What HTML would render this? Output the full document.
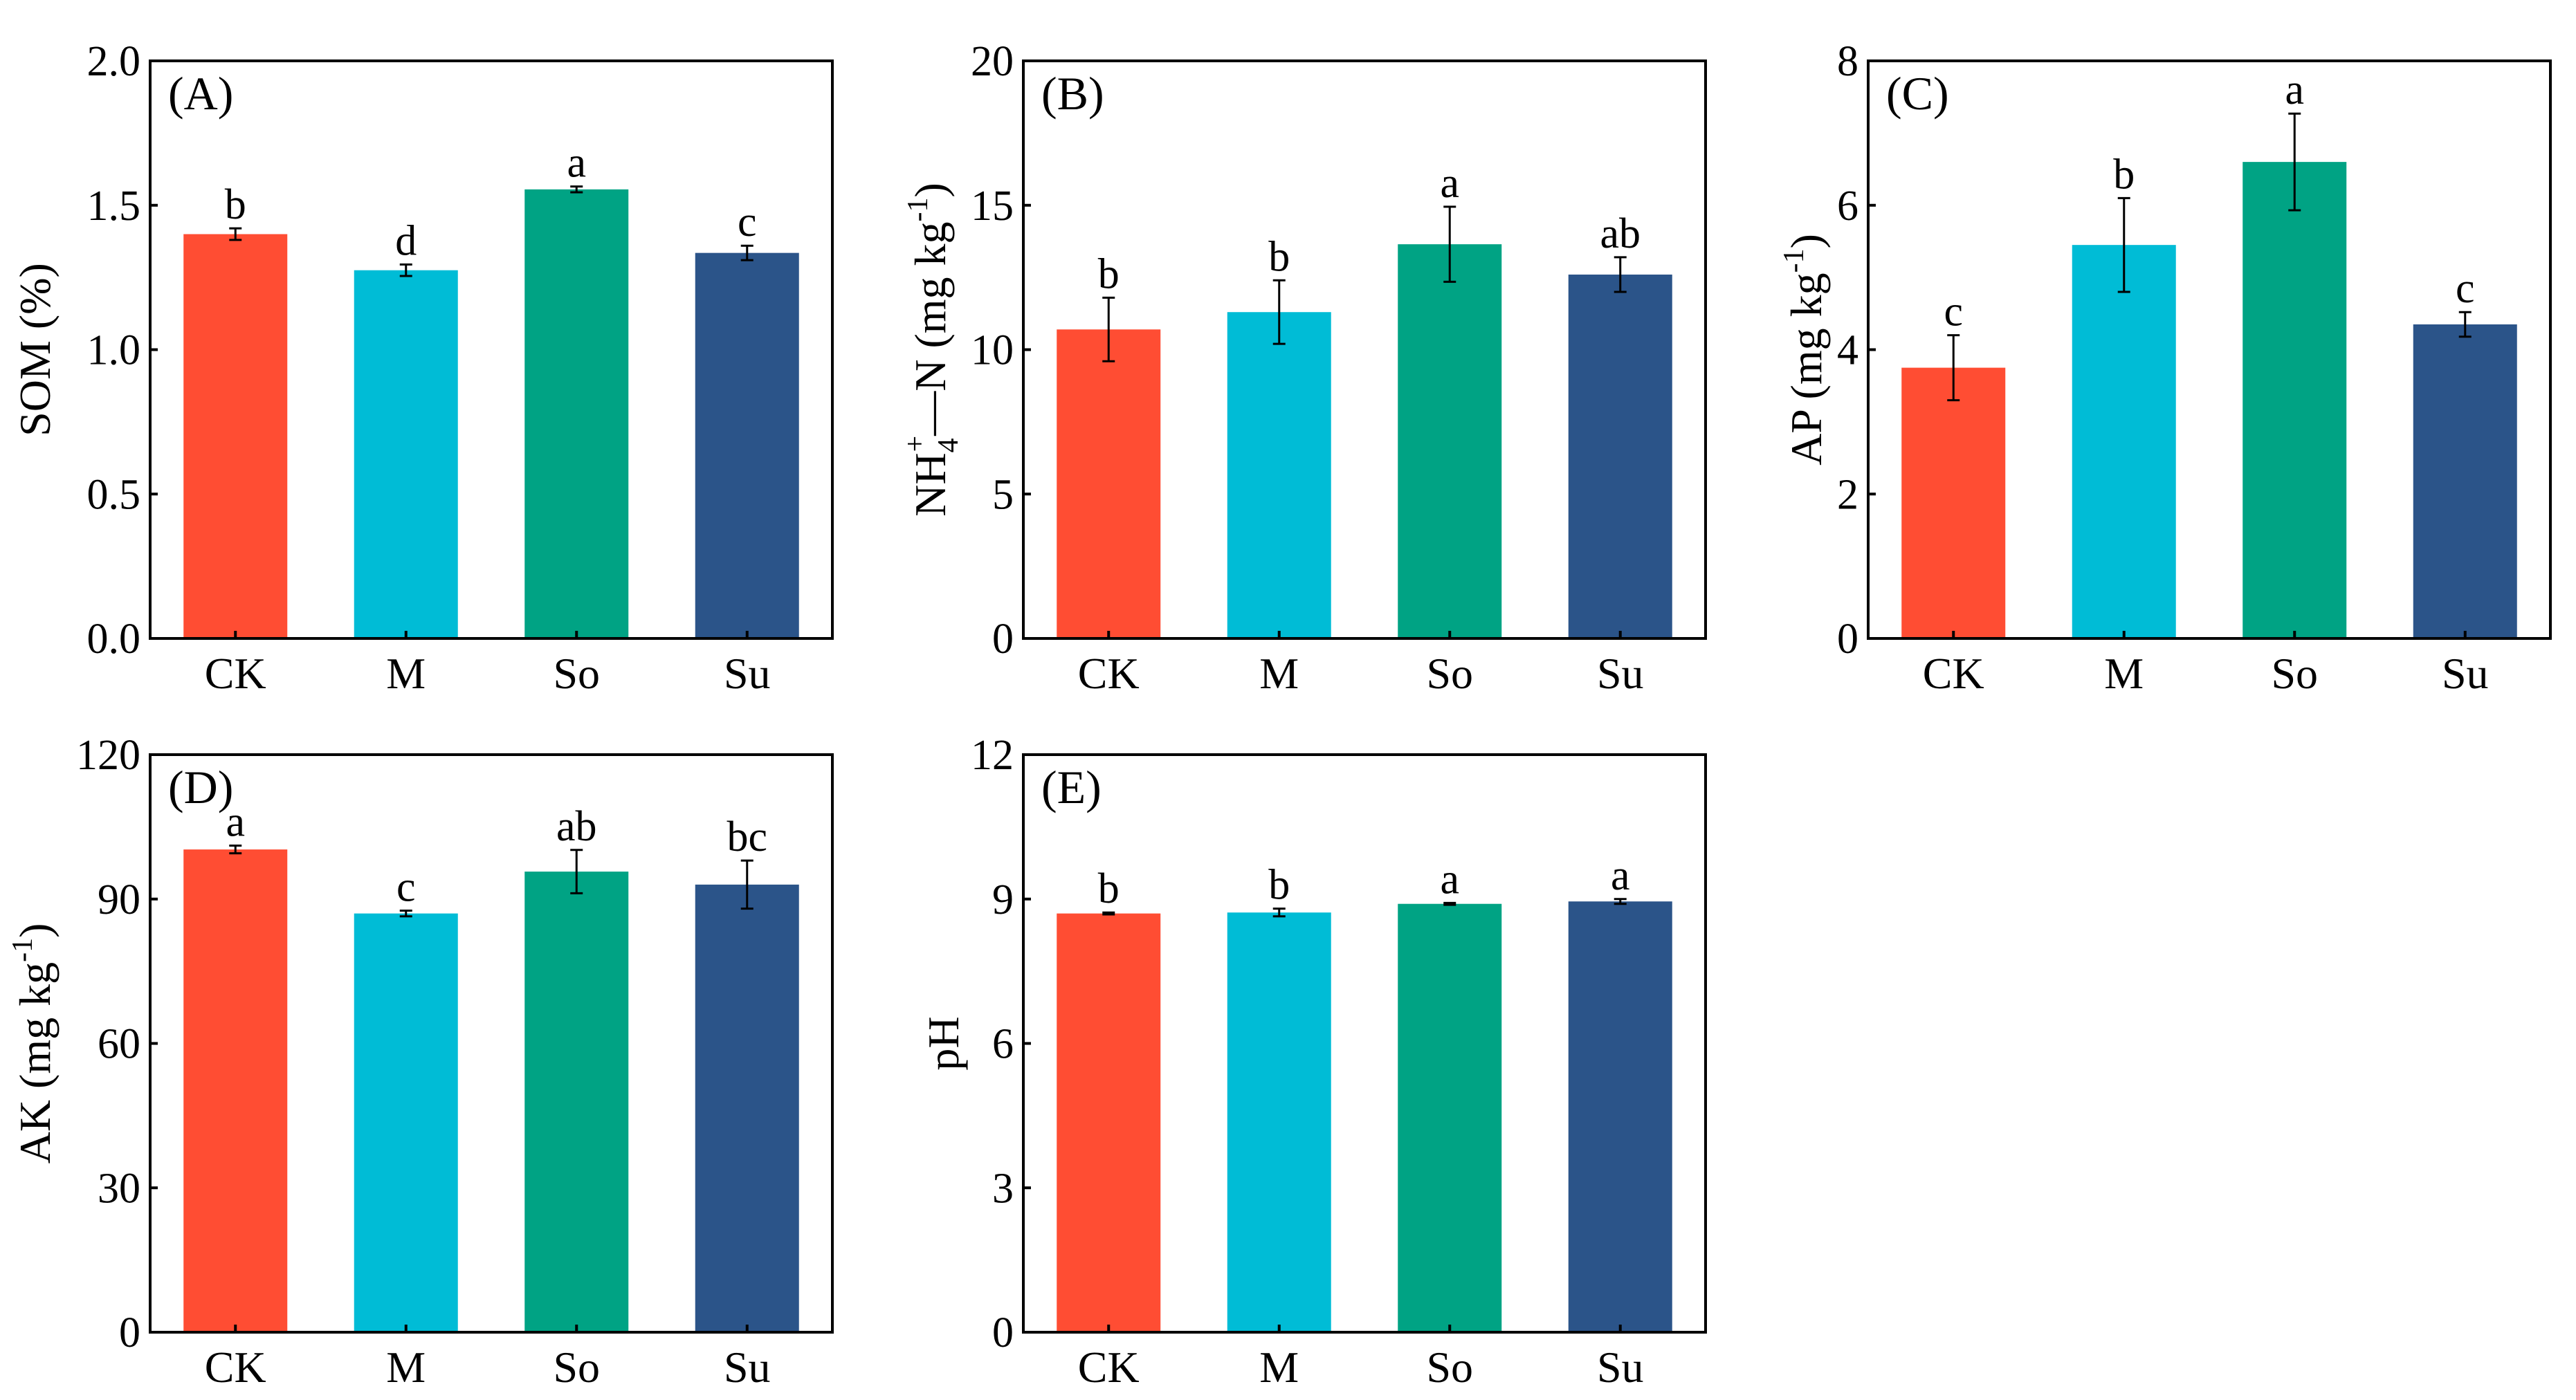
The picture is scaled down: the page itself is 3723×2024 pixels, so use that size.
<!DOCTYPE html>
<html><head><meta charset="utf-8"><style>
html,body{margin:0;padding:0;background:#fff;}
svg{display:block;font-family:"Liberation Serif","Times New Roman",serif;}
</style></head><body>
<svg id="chart" width="3723" height="2024" viewBox="0 0 3723 2024" xmlns="http://www.w3.org/2000/svg"></svg>
<script>
const categories = ["CK","M","So","Su"];
const colors = ["#FF4D33","#00BCD6","#00A384","#2B5489"];
const valsA = [1.40,1.275,1.555,1.335];
const errA = [0.02,0.02,0.01,0.025];
const sigA = ["b","d","a","c"];
const ticksA = ["0.0","0.5","1.0","1.5","2.0"];
const valsB = [10.7,11.3,13.65,12.6];
const errB = [1.1,1.1,1.3,0.6];
const sigB = ["b","b","a","ab"];
const ticksB = ["0","5","10","15","20"];
const valsC = [3.75,5.45,6.6,4.35];
const errC = [0.45,0.65,0.67,0.17];
const sigC = ["c","b","a","c"];
const ticksC = ["0","2","4","6","8"];
const valsD = [100.3,87,95.7,93];
const errD = [0.8,0.6,4.5,5];
const sigD = ["a","c","ab","bc"];
const ticksD = ["0","30","60","90","120"];
const valsE = [8.7,8.72,8.9,8.95];
const errE = [0.02,0.08,0.02,0.05];
const sigE = ["b","b","a","a"];
const ticksE = ["0","3","6","9","12"];

const NS="http://www.w3.org/2000/svg";
const svg=document.getElementById('chart');
function mk(tag,attrs,parent){const e=document.createElementNS(NS,tag);for(const k in attrs)e.setAttribute(k,attrs[k]);(parent||svg).appendChild(e);return e;}

function panel(id,x0,y0,label,ticks,vals,errs,sigs,titleX,titleFn){
  const W=986,H=835;
  const g=mk('g',{});
  
  
  const ymax=parseFloat(ticks[ticks.length-1]);
  const ys=v=>y0+H-v/ymax*H;
  const band=W/categories.length;
  const xs=i=>x0+band*(i+0.5);
  const bw=150;
  vals.forEach((v,i)=>{
    const r=mk('rect',{x:xs(i)-bw/2,y:ys(v),width:bw,height:y0+H-ys(v),fill:colors[i]},g);
    
    
    const top=ys(v+errs[i]),bot=ys(v-errs[i]);
    const eb=mk('path',{d:`M${xs(i)} ${top}V${bot}M${xs(i)-9} ${top}H${xs(i)+9}M${xs(i)-9} ${bot}H${xs(i)+9}`,stroke:'#000','stroke-width':3,fill:'none'},g);
    
    
    const t=mk('text',{x:xs(i),y:top-14,'text-anchor':'middle','font-size':62},g);
    t.textContent=sigs[i];
    
    
    const xl=mk('text',{x:xs(i),y:y0+H+72,'text-anchor':'middle','font-size':64},g);
    xl.textContent=categories[i];
    
    
    const tk=mk('line',{x1:xs(i),x2:xs(i),y1:y0+H,y2:y0+H-11,stroke:'#000','stroke-width':4},g);
    
    
  });
  ticks.forEach(t=>{
    const v=parseFloat(t);
    const ln=mk('line',{x1:x0,x2:x0+11,y1:ys(v),y2:ys(v),stroke:'#000','stroke-width':4},g);
    
    
    const tl=mk('text',{x:x0-14,y:ys(v)+21,'text-anchor':'end','font-size':62},g);
    tl.textContent=t;
    
    
  });
  const box=mk('rect',{x:x0,y:y0,width:W,height:H,fill:'none',stroke:'#000','stroke-width':4},g);
  
  
  const pl=mk('text',{x:x0+26,y:y0+70,'font-size':68},g);
  pl.textContent=label;
  
  
  const yt=mk('text',{x:0,y:0,'text-anchor':'middle','font-size':64,transform:`translate(${titleX},${y0+H/2}) rotate(-90)`},g);
  titleFn(yt);
  
  
}
function plain(s){return t=>{t.textContent=s;};}
function withSup(pre,sup,post){return t=>{
  t.appendChild(document.createTextNode(pre));
  const s=document.createElementNS(NS,'tspan');s.setAttribute('dy',-26);s.setAttribute('font-size',42);s.textContent=sup;t.appendChild(s);
  const p=document.createElementNS(NS,'tspan');p.setAttribute('dy',26);p.textContent=post;t.appendChild(p);
};}
function nhTitle(t){
  t.appendChild(document.createTextNode('NH'));
  const a=document.createElementNS(NS,'tspan');a.setAttribute('dy',18);a.setAttribute('font-size',42);a.textContent='4';t.appendChild(a);
  const b=document.createElementNS(NS,'tspan');b.setAttribute('dy',-48);b.setAttribute('dx',-20);b.setAttribute('font-size',42);b.textContent='+';t.appendChild(b);
  const c=document.createElementNS(NS,'tspan');c.setAttribute('dy',30);c.textContent='—N (mg kg';t.appendChild(c);
  const d=document.createElementNS(NS,'tspan');d.setAttribute('dy',-26);d.setAttribute('font-size',42);d.textContent='-1';t.appendChild(d);
  const e=document.createElementNS(NS,'tspan');e.setAttribute('dy',26);e.textContent=')';t.appendChild(e);
}
panel('a',217,88,'(A)',ticksA,valsA,errA,sigA,72,plain('SOM (%)'));
panel('b',1479,88,'(B)',ticksB,valsB,errB,sigB,1366,nhTitle);
panel('c',2700,88,'(C)',ticksC,valsC,errC,sigC,2632,withSup('AP (mg kg','-1',')'));
panel('d',217,1091,'(D)',ticksD,valsD,errD,sigD,72,withSup('AK (mg kg','-1',')'));
panel('e',1479,1091,'(E)',ticksE,valsE,errE,sigE,1385,plain('pH'));
</script>
</body></html>
